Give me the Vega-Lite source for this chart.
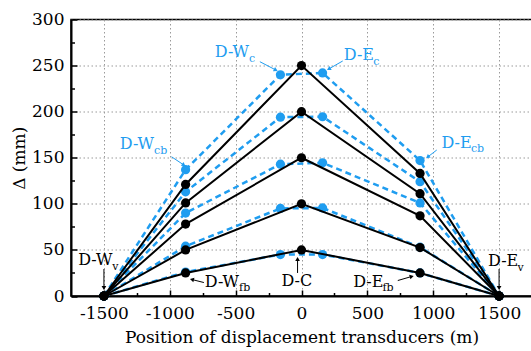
{
  "$schema": "https://vega.github.io/schema/vega-lite/v6.json",
  "autosize": "none",
  "width": 461,
  "height": 276.5,
  "padding": {"left": 71, "top": 19.5, "right": 0, "bottom": 55},
  "background": "white",
  "config": {
    "font": "DejaVu Serif",
    "view": {"stroke": "#000", "strokeWidth": 1.5},
    "axis": {
      "domainColor": "#000",
      "domainWidth": 2,
      "tickColor": "#000",
      "tickWidth": 1.5,
      "labelFont": "DejaVu Serif",
      "labelFontSize": 17,
      "labelColor": "#000",
      "titleFont": "DejaVu Serif",
      "titleFontSize": 17,
      "titleFontWeight": "normal",
      "titleColor": "#000",
      "gridColor": "#9a9a9a",
      "gridDash": [1.5, 2.5],
      "gridWidth": 1
    }
  },
  "datasets": {
    "curves": [
      {"set": "solid", "curve": "s1", "x": -1500, "y": 0},
      {"set": "solid", "curve": "s1", "x": -880, "y": 25},
      {"set": "solid", "curve": "s1", "x": 0, "y": 50},
      {"set": "solid", "curve": "s1", "x": 900, "y": 25},
      {"set": "solid", "curve": "s1", "x": 1500, "y": 0},
      {"set": "solid", "curve": "s2", "x": -1500, "y": 0},
      {"set": "solid", "curve": "s2", "x": -880, "y": 50},
      {"set": "solid", "curve": "s2", "x": 0, "y": 100},
      {"set": "solid", "curve": "s2", "x": 900, "y": 52.5},
      {"set": "solid", "curve": "s2", "x": 1500, "y": 0},
      {"set": "solid", "curve": "s3", "x": -1500, "y": 0},
      {"set": "solid", "curve": "s3", "x": -880, "y": 78},
      {"set": "solid", "curve": "s3", "x": 0, "y": 150},
      {"set": "solid", "curve": "s3", "x": 900, "y": 87},
      {"set": "solid", "curve": "s3", "x": 1500, "y": 0},
      {"set": "solid", "curve": "s4", "x": -1500, "y": 0},
      {"set": "solid", "curve": "s4", "x": -880, "y": 101},
      {"set": "solid", "curve": "s4", "x": 0, "y": 200},
      {"set": "solid", "curve": "s4", "x": 900, "y": 111},
      {"set": "solid", "curve": "s4", "x": 1500, "y": 0},
      {"set": "solid", "curve": "s5", "x": -1500, "y": 0},
      {"set": "solid", "curve": "s5", "x": -880, "y": 121},
      {"set": "solid", "curve": "s5", "x": 0, "y": 250},
      {"set": "solid", "curve": "s5", "x": 900, "y": 133},
      {"set": "solid", "curve": "s5", "x": 1500, "y": 0},
      {"set": "dashed", "curve": "d1", "x": -1500, "y": 0},
      {"set": "dashed", "curve": "d1", "x": -880, "y": 26},
      {"set": "dashed", "curve": "d1", "x": -160, "y": 45},
      {"set": "dashed", "curve": "d1", "x": 160, "y": 45},
      {"set": "dashed", "curve": "d1", "x": 900, "y": 25},
      {"set": "dashed", "curve": "d1", "x": 1500, "y": 0},
      {"set": "dashed", "curve": "d2", "x": -1500, "y": 0},
      {"set": "dashed", "curve": "d2", "x": -880, "y": 54},
      {"set": "dashed", "curve": "d2", "x": -160, "y": 95},
      {"set": "dashed", "curve": "d2", "x": 160, "y": 95.5},
      {"set": "dashed", "curve": "d2", "x": 900, "y": 53},
      {"set": "dashed", "curve": "d2", "x": 1500, "y": 0},
      {"set": "dashed", "curve": "d3", "x": -1500, "y": 0},
      {"set": "dashed", "curve": "d3", "x": -880, "y": 90},
      {"set": "dashed", "curve": "d3", "x": -160, "y": 143},
      {"set": "dashed", "curve": "d3", "x": 160, "y": 144.5},
      {"set": "dashed", "curve": "d3", "x": 900, "y": 101},
      {"set": "dashed", "curve": "d3", "x": 1500, "y": 0},
      {"set": "dashed", "curve": "d4", "x": -1500, "y": 0},
      {"set": "dashed", "curve": "d4", "x": -880, "y": 113},
      {"set": "dashed", "curve": "d4", "x": -160, "y": 194},
      {"set": "dashed", "curve": "d4", "x": 160, "y": 194.5},
      {"set": "dashed", "curve": "d4", "x": 900, "y": 124},
      {"set": "dashed", "curve": "d4", "x": 1500, "y": 0},
      {"set": "dashed", "curve": "d5", "x": -1500, "y": 0},
      {"set": "dashed", "curve": "d5", "x": -880, "y": 137},
      {"set": "dashed", "curve": "d5", "x": -160, "y": 240},
      {"set": "dashed", "curve": "d5", "x": 160, "y": 242},
      {"set": "dashed", "curve": "d5", "x": 900, "y": 147},
      {"set": "dashed", "curve": "d5", "x": 1500, "y": 0}
    ],
    "labels": [
      {"set": "dashed", "name": "D-W", "sub": "c", "x": -658, "y": 259.6, "sx": -398, "sy": 254.4},
      {"set": "dashed", "name": "D-E", "sub": "c", "x": 321, "y": 256, "sx": 544, "sy": 250.6},
      {"set": "dashed", "name": "D-W", "sub": "cb", "x": -1379, "y": 159.2, "sx": -1119, "sy": 154},
      {"set": "dashed", "name": "D-E", "sub": "cb", "x": 1062, "y": 161, "sx": 1286, "sy": 155.7},
      {"set": "solid", "name": "D-W", "sub": "v", "x": -1695, "y": 33.6, "sx": -1436, "sy": 27.7},
      {"set": "solid", "name": "D-E", "sub": "v", "x": 1416, "y": 32.9, "sx": 1639, "sy": 26.6},
      {"set": "solid", "name": "D-W", "sub": "fb", "x": -734, "y": 10.1, "sx": -474, "sy": 4.9},
      {"set": "solid", "name": "D-C", "sub": "", "x": -152, "y": 10.5, "sx": 0, "sy": 0},
      {"set": "solid", "name": "D-E", "sub": "fb", "x": 392, "y": 10.1, "sx": 615, "sy": 4.9}
    ],
    "arrows": [
      {"set": "dashed", "x": -316, "y": 254.2, "x2": -195, "y2": 245.2, "dir": 117},
      {"set": "dashed", "x": 313, "y": 255, "x2": 207, "y2": 246.3, "dir": 240},
      {"set": "dashed", "x": -987, "y": 151.1, "x2": -893, "y2": 142.1, "dir": 124},
      {"set": "dashed", "x": 1027, "y": 158.4, "x2": 958, "y2": 150.8, "dir": 232},
      {"set": "solid", "x": -1500, "y": 29.3, "x2": -1500, "y2": 8.7, "dir": 180},
      {"set": "solid", "x": 1500, "y": 29.3, "x2": 1500, "y2": 8.7, "dir": 180},
      {"set": "solid", "x": -741, "y": 14.6, "x2": -832, "y2": 17.9, "dir": 284},
      {"set": "solid", "x": -30, "y": 25, "x2": -30, "y2": 40.1, "dir": 0},
      {"set": "solid", "x": 731, "y": 16.8, "x2": 837, "y2": 21.2, "dir": 74}
    ]
  },
  "encoding": {
    "x": {
      "field": "x",
      "type": "quantitative",
      "scale": {"domain": [-1750, 1750], "nice": false, "zero": false},
      "axis": {
        "title": "Position of displacement transducers (m)",
        "values": [-1500, -1250, -1000, -750, -500, -250, 0, 250, 500, 750, 1000, 1250, 1500],
        "labelExpr": "datum.value % 500 == 0 ? toString(datum.value) : ''",
        "tickSize": {"condition": {"test": "datum.value % 500 != 0", "value": -3.5}, "value": -6},
        "gridOpacity": {"condition": {"test": "datum.value % 500 != 0", "value": 0}, "value": 1},
        "labelPadding": 15,
        "titlePadding": 8
      }
    },
    "y": {
      "field": "y",
      "type": "quantitative",
      "scale": {"domain": [0, 300], "nice": false},
      "axis": {
        "title": "Δ (mm)",
        "values": [0, 25, 50, 75, 100, 125, 150, 175, 200, 225, 250, 275, 300],
        "labelExpr": "datum.value % 50 == 0 ? toString(datum.value) : ''",
        "tickSize": {"condition": {"test": "datum.value % 50 != 0", "value": -3.5}, "value": -6},
        "gridOpacity": {"condition": {"test": "datum.value % 50 != 0 || datum.value == 0", "value": 0}, "value": 1},
        "labelPadding": 13,
        "titlePadding": 3
      }
    }
  },
  "layer": [
    {
      "data": {"name": "curves"},
      "transform": [{"filter": "datum.set == 'dashed'"}],
      "mark": {"type": "line", "color": "#1F9DF0", "strokeWidth": 2.5, "strokeDash": [6, 4]},
      "encoding": {"detail": {"field": "curve"}}
    },
    {
      "data": {"name": "curves"},
      "transform": [{"filter": "datum.set == 'dashed'"}],
      "mark": {"type": "circle", "color": "#1F9DF0", "opacity": 1, "size": 85}
    },
    {
      "data": {"name": "curves"},
      "transform": [{"filter": "datum.set == 'solid'"}],
      "mark": {"type": "line", "color": "#000", "strokeWidth": 2},
      "encoding": {"detail": {"field": "curve"}}
    },
    {
      "data": {"name": "curves"},
      "transform": [{"filter": "datum.set == 'solid'"}],
      "mark": {"type": "circle", "color": "#000", "opacity": 1, "size": 85}
    },
    {
      "data": {"name": "arrows"},
      "mark": {"type": "rule", "strokeWidth": 1},
      "encoding": {
        "x2": {"field": "x2"},
        "y2": {"field": "y2"},
        "color": {"field": "set", "type": "nominal", "scale": {"domain": ["dashed", "solid"], "range": ["#1F9DF0", "#000000"]}, "legend": null}
      }
    },
    {
      "data": {"name": "arrows"},
      "mark": {"type": "point", "shape": "triangle-up", "filled": true, "size": 22, "opacity": 1},
      "encoding": {
        "x": {"field": "x2", "type": "quantitative"},
        "y": {"field": "y2", "type": "quantitative"},
        "angle": {"field": "dir", "type": "quantitative", "scale": null},
        "color": {"field": "set", "type": "nominal", "scale": {"domain": ["dashed", "solid"], "range": ["#1F9DF0", "#000000"]}, "legend": null}
      }
    },
    {
      "data": {"name": "labels"},
      "mark": {"type": "text", "align": "left", "baseline": "alphabetic", "fontSize": 16, "font": "DejaVu Serif"},
      "encoding": {
        "text": {"field": "name"},
        "color": {"field": "set", "type": "nominal", "scale": {"domain": ["dashed", "solid"], "range": ["#1F9DF0", "#000000"]}, "legend": null}
      }
    },
    {
      "data": {"name": "labels"},
      "mark": {"type": "text", "align": "left", "baseline": "alphabetic", "fontSize": 11, "font": "DejaVu Serif"},
      "encoding": {
        "x": {"field": "sx", "type": "quantitative"},
        "y": {"field": "sy", "type": "quantitative"},
        "text": {"field": "sub"},
        "color": {"field": "set", "type": "nominal", "scale": {"domain": ["dashed", "solid"], "range": ["#1F9DF0", "#000000"]}, "legend": null}
      }
    }
  ]
}
